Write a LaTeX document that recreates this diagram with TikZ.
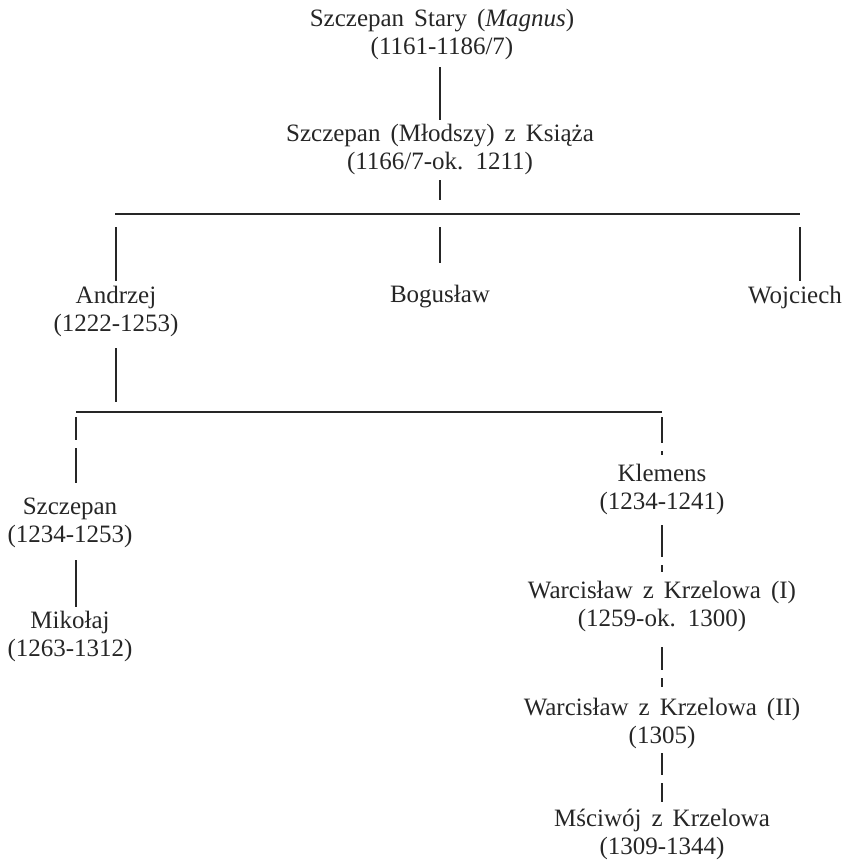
\documentclass[tikz,border=0pt]{standalone}
\usepackage{fontspec}
\setmainfont[WordSpace=1.6]{Liberation Serif}
\usetikzlibrary{calc}

\tikzset{
  person/.style={align=center, inner sep=0pt, text=black!85,
    font=\fontsize{25}{28}\selectfont},
  link/.style={line width=1.3pt, draw=black!85},
  bar/.style={line width=1.6pt, draw=black!85},
  brokenline/.style={dash pattern=on #1 off 8pt on 200pt},
}

\begin{document}
\begin{tikzpicture}[x=1pt, y=-1pt]
        \useasboundingbox (0,0) rectangle (842,861);

        % People
        \node[person] (stary) at (442,34) {Szczepan Stary (\textit{Magnus})\\(1161-1186/7)};
        \node[person] (mlodszy) at (440,149) {Szczepan (Młodszy) z Książa\\(1166/7-ok. 1211)};
        \node[person] (andrzej) at (116,311) {Andrzej\\(1222-1253)};
        \node[person] (boguslaw) at (440,297) {Bogusław};
        \node[person] (wojciech) at (795,297) {Wojciech};
        \node[person] (szczepan) at (70,523) {Szczepan\\(1234-1253)};
        \node[person] (mikolaj) at (70,636) {Mikołaj\\(1263-1312)};
        \node[person] (klemens) at (662,489) {Klemens\\(1234-1241)};
        \node[person] (warcI) at (662,606) {Warcisław z Krzelowa (I)\\(1259-ok. 1300)};
        \node[person] (warcII) at (662,723) {Warcisław z Krzelowa (II)\\(1305)};
        \node[person] (msciwoj) at (662,834) {Mściwój z Krzelowa\\(1309-1344)};

        % Draw bars
        \coordinate (barL) at (115,214);
        \coordinate (barR) at (800,214);
        \coordinate (bar2L) at (76,412);
        \coordinate (bar2R) at (662,412);
        \draw[bar] (barL) -- (barR);
        \draw[bar] (bar2L) -- (bar2R);

        % First generations
        \draw[link, shorten <=7.5pt, shorten >=3.5pt] (stary.south -| mlodszy) -- (mlodszy);
        \draw[link, shorten <=5.5pt, shorten >=14pt] (mlodszy) -- (mlodszy |- barL);
        \draw[link, shorten <=13pt, shorten >=4.5pt] (andrzej |- barL) -- (andrzej);
        \draw[link, shorten <=13pt, shorten >=22.5pt] (boguslaw |- barL) -- (boguslaw);
        \draw[link, shorten <=13pt, shorten >=16pt] (barR) -- (barR |- wojciech);
        \draw[link, shorten <=11.5pt, shorten >=10pt] (andrzej) -- (andrzej |- bar2L);

        % Sons of Andrzej
        \draw[link, brokenline=23pt, shorten <=5pt, shorten >=40pt] (bar2L) -- (bar2L |- szczepan);
        \draw[link, shorten <=37pt, shorten >=29pt] (bar2L |- szczepan) -- (bar2L |- mikolaj);
        \draw[link, brokenline=26pt, shorten <=5pt, shorten >=8.5pt] (bar2R) -- (klemens);

        % Krzelowa line
        \draw[link, brokenline=32pt, shorten <=10.5pt, shorten >=8.5pt] (klemens) -- (warcI);
        \draw[link, brokenline=23pt, shorten <=15.5pt, shorten >=10.5pt] (warcI) -- (warcII);
        \draw[link, brokenline=22pt, shorten <=4.5pt, shorten >=6pt] (warcII) -- (msciwoj);
\end{tikzpicture}
\end{document}
